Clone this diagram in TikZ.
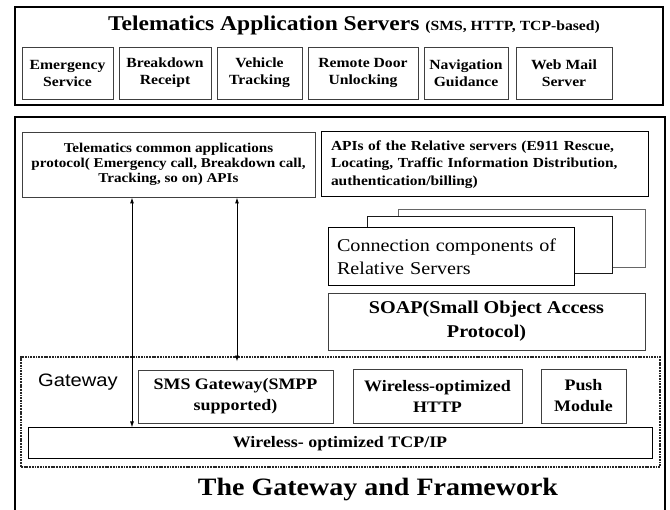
\documentclass[tikz,border=0pt]{standalone}
\usepackage{fontspec}
\setmainfont{Liberation Serif}[FakeStretch=1.12]
\setsansfont{Liberation Sans}[FakeStretch=1.12]
\usetikzlibrary{arrows.meta}
\begin{document}
\begin{tikzpicture}[x=1pt,y=-1pt,
  thickbox/.style={draw, line width=2.2pt, inner sep=0pt},
  plainbox/.style={draw=black!75, line width=0.9pt, inner sep=0pt, align=center},
  darkbox/.style={draw=black, line width=1pt, inner sep=0pt, align=center},
  appbox/.style={plainbox, font=\bfseries\fontsize{14}{17}\selectfont},
  gwbox/.style={draw=black!85, line width=2.6pt, dash pattern=on 1.8pt off 0.9pt, inner sep=0pt},
  arr/.style={{Latex[length=6pt,width=4pt]}-{Latex[length=6pt,width=4pt]}, line width=0.9pt}]
\useasboundingbox (0,0) rectangle (670,510);
\clip (0,0) rectangle (670,510);
\fill[white] (0,0) rectangle (670,510);
% top: application servers
\node[thickbox, minimum width=648pt, minimum height=98pt] (tas) at (339,56) {};
\node[font=\bfseries, inner sep=0pt] (tastitle) at (354,25)
  {\fontsize{21}{21}\selectfont Telematics Application Servers \fontsize{14}{14}\selectfont(SMS, HTTP, TCP-based)};
\node[appbox, minimum width=91pt, minimum height=52pt] (emer) at (67.5,73) {Emergency\\Service};
\node[appbox, minimum width=92pt, minimum height=52pt] (brk) at (165,73) {Breakdown\\Receipt};
\node[appbox, minimum width=85pt, minimum height=52pt] (veh) at (259.5,73) {Vehicle\\Tracking};
\node[appbox, minimum width=110pt, minimum height=52pt] (door) at (363,73) {Remote Door\\Unlocking};
\node[appbox, minimum width=84pt, minimum height=52pt] (nav) at (466,73) {Navigation\\Guidance};
\node[appbox, minimum width=96pt, minimum height=52pt] (mail) at (564,73) {Web Mail\\Server};
% main framework box
\node[thickbox, minimum width=650pt, minimum height=423pt] (fw) at (340,328.5) {};
\node[plainbox, minimum width=293pt, minimum height=65pt, font=\bfseries\fontsize{13.5}{15}\selectfont] (tca) at (168.5,164.5)
  {Telematics common applications\\protocol( Emergency call, Breakdown call,\\Tracking, so on) APIs};
\node[darkbox, minimum width=327pt, minimum height=65pt, text width=307pt, align=left, font=\bfseries\fontsize{13.8}{17.5}\selectfont] (rapi) at (484.5,164.5)
  {APIs of the Relative servers (E911 Rescue,\\Locating, Traffic Information Distribution,\\authentication/billing)};
\node[draw=black!60, line width=0.9pt, fill=white, minimum width=247pt, minimum height=58pt] (cc3) at (521.5,238) {};
\node[draw=black!90, line width=0.9pt, fill=white, minimum width=245pt, minimum height=57pt] (cc2) at (489.5,244.5) {};
\node[darkbox, fill=white, minimum width=246pt, minimum height=58pt, text width=228pt, align=left, font=\fontsize{18}{23}\selectfont] (cc1) at (451,257)
  {Connection components of\\Relative Servers};
\node[plainbox, minimum width=317pt, minimum height=57pt, font=\bfseries\fontsize{18}{24}\selectfont] (soap) at (486.5,321.5)
  {SOAP(Small Object Access\\Protocol)};
% gateway
\node[gwbox, minimum width=639pt, minimum height=110pt] (gw) at (340.5,412) {};
\node[font=\sffamily\fontsize{18}{18}\selectfont, inner sep=0pt] (gwlabel) at (78,382) {Gateway};
\node[plainbox, minimum width=195pt, minimum height=53pt, font=\bfseries\fontsize{16}{21}\selectfont] (sms) at (235.5,396.5)
  {SMS Gateway(SMPP\\supported)};
\node[plainbox, minimum width=169pt, minimum height=54pt, font=\bfseries\fontsize{16}{21}\selectfont] (http) at (437.5,396)
  {Wireless-optimized\\HTTP};
\node[plainbox, minimum width=85pt, minimum height=54pt, font=\bfseries\fontsize{16}{21}\selectfont] (push) at (583.5,396)
  {Push\\Module};
\node[darkbox, minimum width=624pt, minimum height=31pt, font=\bfseries\fontsize{16}{16}\selectfont] (tcp) at (340,443.5)
  {Wireless- optimized TCP/IP};
\node[font=\bfseries\fontsize{25}{25}\selectfont, inner sep=0pt] (fwtitle) at (378,490) {The Gateway and Framework};
% arrows
\coordinate (ax1) at (132,0);
\coordinate (ax2) at (237,0);
\draw[arr] (tca.south -| ax1) -- (tcp.north -| ax1);
\draw[arr, shorten >=8pt] (tca.south -| ax2) -- (sms.north -| ax2);
\end{tikzpicture}
\end{document}
